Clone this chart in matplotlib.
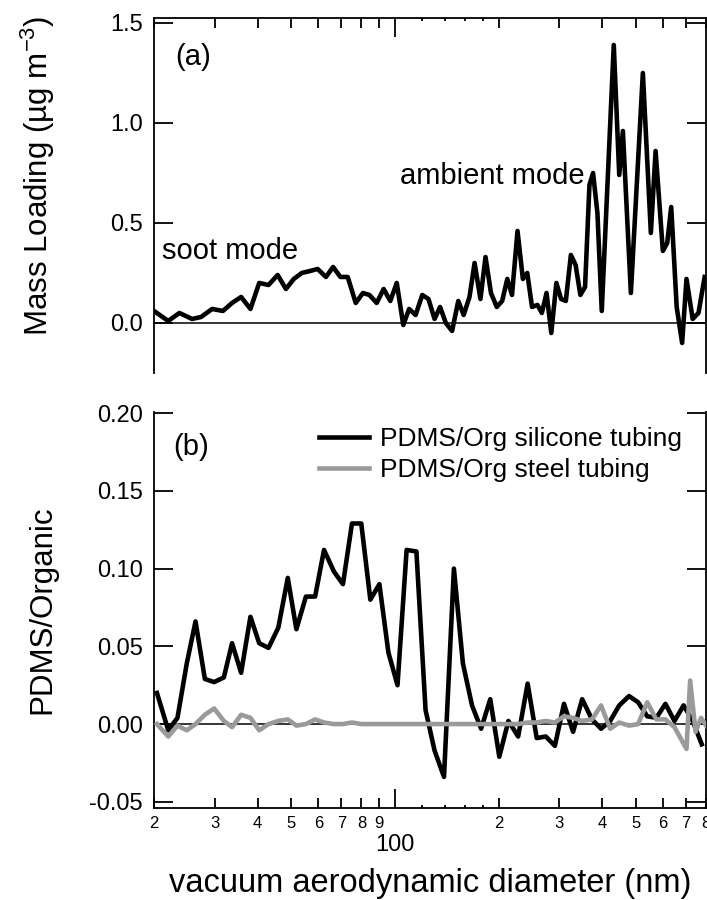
import matplotlib
matplotlib.use('Agg')
import matplotlib.pyplot as plt
from matplotlib.ticker import NullLocator

plt.rcParams['font.family'] = ['Liberation Sans', 'DejaVu Sans']
plt.rcParams['mathtext.fontset'] = 'custom'
plt.rcParams['mathtext.rm'] = 'Liberation Sans'
plt.rcParams['mathtext.it'] = 'Liberation Sans:italic'
plt.rcParams['mathtext.bf'] = 'Liberation Sans:bold'
plt.rcParams['axes.unicode_minus'] = False

# ---------------- data ----------------
# (a) mass loading vs vacuum aerodynamic diameter
mass_diam = [20.0, 22.0, 23.7, 25.8, 27.4, 29.5, 31.7, 33.7, 35.8, 38.1,
             40.4, 43.0, 45.7, 48.3, 50.9, 53.7, 56.8, 59.7, 63.1, 66.2,
             69.5, 73.0, 77.0, 80.8, 84.4, 88.6, 92.8, 97.0, 101.3, 105.8,
             110.0, 114.9, 120.1, 125.2, 130.4, 135.3, 140.6, 146.6, 152.8, 158.4,
             164.7, 170.4, 177.2, 183.3, 190.1, 197.6, 204.9, 212.0, 218.8, 227.0,
             235.3, 242.3, 250.1, 259.4, 267.1, 275.6, 284.5, 294.3, 303.8, 313.5,
             324.3, 334.7, 345.5, 356.5, 367.1, 376.1, 387.2, 398.6, 431.9, 448.0,
             459.0, 484.2, 524.6, 553.4, 571.2, 599.6, 617.3, 634.0, 657.6, 682.0,
             702.2, 731.8, 760.7, 792.8]
mass_loading = [0.06, 0.01, 0.05, 0.02, 0.03, 0.07, 0.06, 0.10, 0.13, 0.07,
                0.20, 0.19, 0.24, 0.17, 0.22, 0.25, 0.26, 0.27, 0.23, 0.28,
                0.23, 0.23, 0.10, 0.15, 0.14, 0.10, 0.17, 0.11, 0.20, -0.01,
                0.07, 0.04, 0.14, 0.12, 0.02, 0.08, 0.00, -0.04, 0.11, 0.04,
                0.13, 0.30, 0.12, 0.33, 0.15, 0.08, 0.11, 0.22, 0.14, 0.46,
                0.22, 0.25, 0.08, 0.09, 0.05, 0.15, -0.05, 0.20, 0.12, 0.11,
                0.34, 0.29, 0.14, 0.18, 0.69, 0.75, 0.55, 0.06, 1.39, 0.74,
                0.96, 0.15, 1.25, 0.45, 0.86, 0.36, 0.40, 0.58, 0.08, -0.10,
                0.22, 0.02, 0.05, 0.23]

# (b) PDMS / organic ratios
silicone_diam = [20.4, 22.0, 23.4, 24.9, 26.4, 28.1, 29.9, 31.9, 33.7, 35.8,
                 38.1, 40.4, 43.0, 45.9, 48.9, 51.8, 55.2, 58.7, 62.3, 66.6,
                 70.7, 75.1, 79.9, 84.9, 90.2, 95.8, 101.8, 108.2, 115.5, 122.8,
                 130.4, 138.9, 148.4, 157.6, 167.5, 178.0, 189.2, 201.0, 213.6, 228.0,
                 242.9, 258.1, 274.2, 291.4, 309.7, 329.1, 349.7, 373.4, 396.7, 421.6,
                 448.0, 478.4, 508.3, 540.1, 574.0, 609.9, 648.0, 688.7, 731.7, 777.5]
silicone_ratio = [0.020, -0.004, 0.004, 0.039, 0.066, 0.029, 0.027, 0.030, 0.052, 0.033,
                  0.069, 0.052, 0.049, 0.062, 0.094, 0.061, 0.082, 0.082, 0.112, 0.098,
                  0.090, 0.129, 0.129, 0.080, 0.090, 0.046, 0.025, 0.112, 0.111, 0.009,
                  -0.017, -0.034, 0.100, 0.039, 0.012, -0.003, 0.016, -0.021, 0.002, -0.008,
                  0.026, -0.009, -0.008, -0.014, 0.013, -0.005, 0.016, 0.003, -0.003, 0.002,
                  0.012, 0.018, 0.014, 0.005, 0.004, 0.013, 0.002, 0.012, 0.002, -0.013]

steel_diam = [20.4, 22.0, 23.4, 24.9, 26.4, 28.1, 29.9, 31.9, 33.7, 35.8,
              38.1, 40.4, 43.0, 45.9, 48.9, 51.8, 55.2, 58.7, 62.3, 66.6,
              70.7, 75.1, 79.9, 84.9, 90.2, 95.8, 101.8, 108.2, 115.5, 122.8,
              130.4, 138.9, 148.4, 157.6, 167.5, 178.0, 189.2, 201.0, 213.6, 228.0,
              242.9, 258.1, 274.2, 291.4, 309.7, 329.1, 349.7, 373.4, 396.7, 421.6,
              448.0, 478.4, 508.3, 540.1, 574.0, 609.9, 648.0, 702.2, 719.5, 746.2,
              773.8, 800.0]
steel_ratio = [0.000, -0.008, -0.001, -0.004, 0.000, 0.006, 0.010, 0.002, -0.002, 0.006,
               0.004, -0.004, 0.000, 0.002, 0.003, -0.001, 0.000, 0.003, 0.001, 0.000,
               0.000, 0.001, 0.000, 0.000, 0.000, 0.000, 0.000, 0.000, 0.000, 0.000,
               0.000, 0.000, 0.000, 0.000, 0.000, 0.000, 0.000, 0.000, 0.000, 0.000,
               0.001, 0.001, 0.002, 0.001, 0.005, 0.004, 0.002, 0.003, 0.012, -0.003,
               0.001, -0.001, 0.000, 0.014, 0.003, 0.003, -0.002, -0.016, 0.028, -0.005,
               0.004, -0.001]

series_labels = ['PDMS/Org silicone tubing', 'PDMS/Org steel tubing']

x_limits = (20, 800)
major_x = [100]
major_x_labels = ['100']
minor_x = [20, 30, 40, 50, 60, 70, 80, 90, 200, 300, 400, 500, 600, 700, 800]
minor_x_labels = ['2', '3', '4', '5', '6', '7', '8', '9', '2', '3', '4', '5', '6', '7', '8']
tiny_x = [120, 140, 160, 180]

top_yticks = [0.0, 0.5, 1.0, 1.5]
top_ytick_labels = ['0.0', '0.5', '1.0', '1.5']
bot_yticks = [-0.05, 0.00, 0.05, 0.10, 0.15, 0.20]
bot_ytick_labels = ['-0.05', '0.00', '0.05', '0.10', '0.15', '0.20']

# ---------------- figure ----------------
fig = plt.figure(figsize=(7.07, 9.0), dpi=100)
ax1 = fig.add_axes([0.2178, 0.5856, 0.7808, 0.3944])
ax2 = fig.add_axes([0.2178, 0.1022, 0.7808, 0.4400])

SPINE_W = 1.3
LINE_W = 3.3
for ax in (ax1, ax2):
    ax.set_xscale('log')
    ax.set_xlim(*x_limits)
    for s in ax.spines.values():
        s.set_linewidth(SPINE_W)
    ax.axhline(0, color='black', lw=1.1, zorder=2)
    ax.tick_params(axis='y', which='major', direction='in', left=True, right=True,
                   length=13.5, width=SPINE_W, labelsize=17, pad=8)
    ax.yaxis.set_minor_locator(NullLocator())
    ax.set_xticks(major_x, labels=major_x_labels)
    ax.set_xticks(minor_x, labels=minor_x_labels, minor=True)

# top panel
ax1.plot(mass_diam, mass_loading, color='black', lw=LINE_W, solid_joinstyle='round', zorder=3)
ax1.set_ylim(-0.25, 1.525)
ax1.set_yticks(top_yticks, labels=top_ytick_labels)
ax1.spines['bottom'].set_visible(False)
ax1.tick_params(axis='x', which='both', direction='in', bottom=False, top=True,
                labelbottom=False, labeltop=False, width=SPINE_W)
ax1.tick_params(axis='x', which='major', length=14)
ax1.tick_params(axis='x', which='minor', length=7)
ax1.set_ylabel(r'Mass Loading (µg m$^{\mathregular{-3}}$)', fontsize=22.5)
ax1.yaxis.set_label_coords(-0.175, 0.555)
ax1.text(0.038, 0.89, '(a)', transform=ax1.transAxes, fontsize=21, ha='left', va='center')
ax1.text(0.0145, 0.321, 'soot mode', transform=ax1.transAxes, fontsize=21,
         ha='left', va='baseline')
ax1.text(0.4457, 0.532, 'ambient mode', transform=ax1.transAxes, fontsize=21,
         ha='left', va='baseline')
sec1 = ax1.secondary_xaxis('top')
sec1.set_xticks(tiny_x, labels=[''] * len(tiny_x))
sec1.xaxis.set_minor_locator(NullLocator())
sec1.tick_params(axis='x', direction='in', length=2.5, width=SPINE_W)
sec1.spines['top'].set_visible(False)

# bottom panel
ax2.plot(silicone_diam, silicone_ratio, color='black', lw=LINE_W, solid_joinstyle='round',
         zorder=3, label=series_labels[0])
ax2.plot(steel_diam, steel_ratio, color='#9a9a9a', lw=LINE_W, solid_joinstyle='round',
         zorder=4, label=series_labels[1])
ax2.set_ylim(-0.054, 0.2007)
ax2.set_yticks(bot_yticks, labels=bot_ytick_labels)
ax2.spines['top'].set_visible(False)
ax2.tick_params(axis='x', which='both', direction='in', bottom=True, top=False,
                width=SPINE_W)
ax2.tick_params(axis='x', which='major', length=14, labelsize=17, pad=19)
ax2.tick_params(axis='x', which='minor', length=7, labelsize=12, pad=6)
ax2.set_ylabel('PDMS/Organic', fontsize=22.5)
ax2.yaxis.set_label_coords(-0.175, 0.5)
ax2.set_xlabel('vacuum aerodynamic diameter (nm)', fontsize=23.5, labelpad=8)
ax2.text(0.034, 0.912, '(b)', transform=ax2.transAxes, fontsize=21, ha='left', va='center')
sec2 = ax2.secondary_xaxis('bottom')
sec2.set_xticks(tiny_x, labels=[''] * len(tiny_x))
sec2.xaxis.set_minor_locator(NullLocator())
sec2.tick_params(axis='x', direction='in', length=2.5, width=SPINE_W)
sec2.spines['bottom'].set_visible(False)

leg = ax2.legend(loc='upper left', bbox_to_anchor=(0.2998, 0.962), frameon=False,
                 fontsize=19, handlelength=1.86, handletextpad=0.42, labelspacing=0.28,
                 borderpad=0, borderaxespad=0)

fig.savefig('out.png', dpi=100)
